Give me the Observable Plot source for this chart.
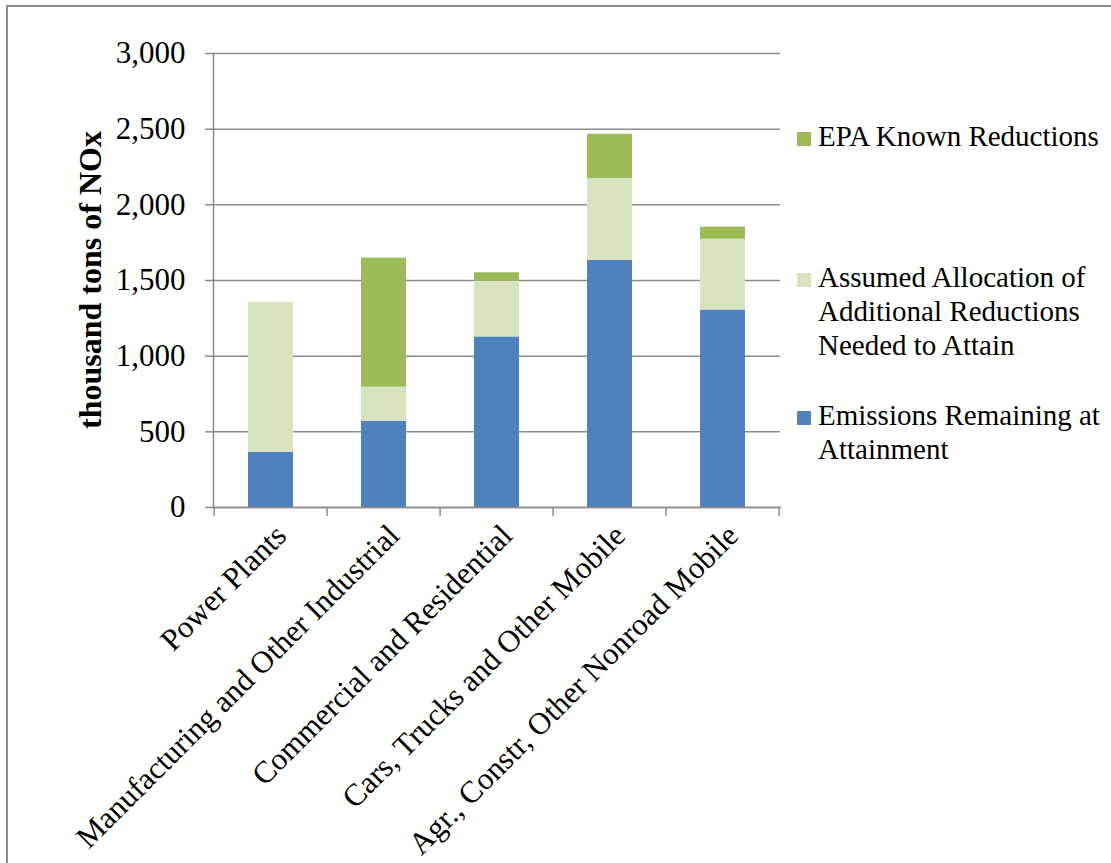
<!DOCTYPE html>
<html><head><meta charset="utf-8">
<script src="https://cdn.jsdelivr.net/npm/d3@7"></script>
<script src="https://cdn.jsdelivr.net/npm/@observablehq/plot@0.6"></script>
<style>
body{margin:0;background:#fff;}
#chart{width:1111px;height:863px;overflow:hidden;}
</style></head><body><div id="chart"></div>
<script>
const categories = ["Power Plants","Manufacturing and Other Industrial","Commercial and Residential","Cars, Trucks and Other Mobile","Agr., Constr, Other Nonroad Mobile"];
const seriesNames = ["Emissions Remaining at Attainment","Assumed Allocation of Additional Reductions Needed to Attain","EPA Known Reductions"];
const emissionsRemaining = [365, 570, 1127, 1633, 1305];
const assumedAllocation = [990, 225, 368, 541, 468];
const epaKnown = [0, 853, 56, 292, 80];
const yTicks = [0, 500, 1000, 1500, 2000, 2500, 3000];
const colors = ["#4f81bd", "#d7e4bd", "#9bbb59"];
const legendOrder = [2, 1, 0];
const legendLines = [["Emissions Remaining at", "Attainment"], ["Assumed Allocation of", "Additional Reductions", "Needed to Attain"], ["EPA Known Reductions"]];

const seriesValues = [emissionsRemaining, assumedAllocation, epaKnown];
const data = [];
categories.forEach((c, i) => seriesNames.forEach((s, j) => data.push({category: c, series: s, value: seriesValues[j][i]})));

const FONT = "'Liberation Serif', 'Times New Roman', serif";
const GRID = "#8a8a8a";

const plot = Plot.plot({
  width: 1111, height: 863,
  marginLeft: 213, marginRight: 331, marginTop: 53, marginBottom: 356,
  style: {fontFamily: FONT, background: "transparent", color: "#000"},
  x: {domain: categories, paddingInner: 0.6, paddingOuter: 0.3, label: null},
  y: {domain: [0, 3000], label: null},
  color: {domain: seriesNames, range: colors},
  marks: [
    Plot.gridY(yTicks, {stroke: GRID, strokeOpacity: 1, strokeWidth: 1.5}),
    Plot.barY(data, {x: "category", y: "value", fill: "series"}),
    Plot.frame({anchor: "left", stroke: GRID, strokeWidth: 1.5}),
    Plot.frame({anchor: "bottom", stroke: GRID, strokeWidth: 1.5}),
    Plot.axisY(yTicks, {tickSize: 8, tickPadding: 20, stroke: GRID, strokeWidth: 1.5, fill: "#000", fontSize: 31, tickFormat: d3.format(","), label: null}),
    Plot.axisX({tickSize: 0, tickPadding: 14, tickRotate: -45, fontSize: 31, fill: "#000", dx: 10, dy: 9, label: null})
  ]
});

const svg = d3.select(plot);
const xs = plot.scale("x");
const step = xs.step;
const y0 = 507;
// category boundary ticks
const edges = categories.map(c => xs.apply(c) - step * 0.3);
edges.push(edges[edges.length - 1] + step);
svg.append("g").selectAll("line").data(edges).join("line")
  .attr("x1", d => d).attr("x2", d => d).attr("y1", y0).attr("y2", y0 + 9)
  .attr("stroke", GRID).attr("stroke-width", 1.5);

// y-axis title
svg.append("text").attr("transform", "translate(101,280) rotate(-90)")
  .attr("text-anchor", "middle").attr("font-family", FONT).attr("font-weight", "bold")
  .attr("font-size", 32).attr("fill", "#000").text("thousand tons of NOx");

// legend
const legendY = {2: [146], 1: [287, 321, 355], 0: [425, 459]};
const lg = svg.append("g").attr("font-family", FONT).attr("font-size", 29).attr("fill", "#000").attr("text-anchor", "start");
legendOrder.forEach(j => {
  const ys = legendY[j];
  lg.append("rect").attr("x", 797).attr("y", ys[0] - 14).attr("width", 14).attr("height", 14).attr("fill", colors[j]);
  legendLines[j].forEach((t, k) => lg.append("text").attr("x", 818).attr("y", ys[k]).attr("text-anchor", "start").text(t));
});

// outer border
svg.append("rect").attr("x", 7).attr("y", 6).attr("width", 1200).attr("height", 1000)
  .attr("fill", "none").attr("stroke", "#8c8c8c").attr("stroke-width", 2);

document.getElementById("chart").appendChild(plot);
</script></body></html>
